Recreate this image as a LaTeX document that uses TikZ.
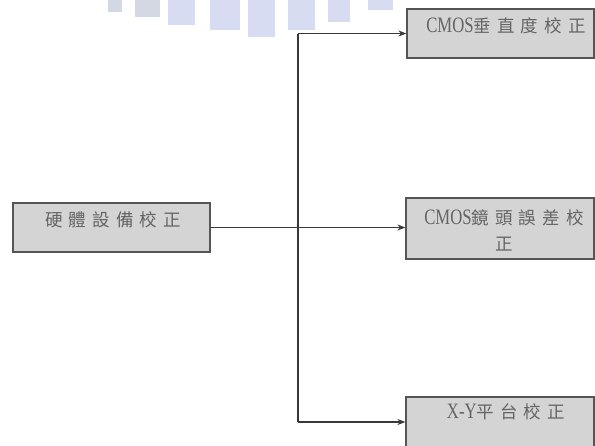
\documentclass[tikz,border=0pt]{standalone}
\usepackage{fontspec}
\setmainfont{Liberation Serif}
\newfontfamily\cjk[LetterSpace=35]{Noto Sans CJK TC}
\newfontfamily\lat[FakeStretch=0.76]{Liberation Serif}
\usetikzlibrary{arrows.meta}
\definecolor{boxfill}{RGB}{212,212,212}
\definecolor{boxdraw}{RGB}{85,85,85}
\definecolor{txt}{RGB}{100,100,100}
\definecolor{wm}{RGB}{168,178,228}
\definecolor{wmg}{RGB}{160,168,190}
\begin{document}
\begin{tikzpicture}[x=1pt,y=-1pt,
  box/.style={draw=boxdraw,fill=boxfill,line width=1.2pt,inner sep=0pt},
  lbl/.style={text=txt,inner sep=0pt,font=\fontsize{17.5}{26}\selectfont,align=center},
  latf/.style={},
  conn/.style={draw=black!78,line width=1.1pt},
  arr/.style={conn,-{Stealth[length=8pt,width=6pt]}}]
\useasboundingbox (0,0) rectangle (595,445);
% watermark blobs
\begin{scope}[opacity=0.45]
\fill[wmg] (108,0) rectangle (122,12);
\fill[wmg] (135,0) rectangle (160,17);
\fill[wm] (168,0) rectangle (195,25);
\fill[wm] (210,0) rectangle (240,30);
\fill[wm] (248,0) rectangle (275,37);
\fill[wm] (288,0) rectangle (315,30);
\fill[wm] (328,0) rectangle (350,22);
\fill[wm] (368,0) rectangle (393,10);
\end{scope}
% boxes
\node[box,minimum width=197pt,minimum height=49pt] (L) at (111.5,227.5) {};
\node[box,minimum width=187pt,minimum height=49pt] (T) at (500.5,33.5) {};
\node[box,minimum width=188pt,minimum height=61pt] (M) at (500,228.5) {};
\node[box,minimum width=188pt,minimum height=52pt] (B) at (500,423) {};
% labels
\node[lbl] (Lt) at (113,220) {\cjk 硬體設備校正};
\node[lbl] (Tt) at (506,26) {{\lat\fontsize{22}{26}\selectfont CMOS}\cjk 垂直度校正};
\node[lbl] (Mt) at (504,230) {{\lat\fontsize{22}{26}\selectfont CMOS}\cjk 鏡頭誤差校\\\cjk 正};
\node[lbl] (Bt) at (506,412) {{\lat\fontsize{22}{26}\selectfont X-Y}\cjk 平台校正};
% connectors
\coordinate (J) at (298,227.5);
\coordinate (JT) at (298,33.5);
\coordinate (JB) at (298,422);
\draw[conn] (L.east) -- (J);
\draw[conn] (JT) -- (JB);
\draw[arr] (JT) -- (T.west);
\draw[arr] (J) -- (M.west |- J);
\draw[arr] (JB) -- (B.west |- JB);
\end{tikzpicture}
\end{document}
